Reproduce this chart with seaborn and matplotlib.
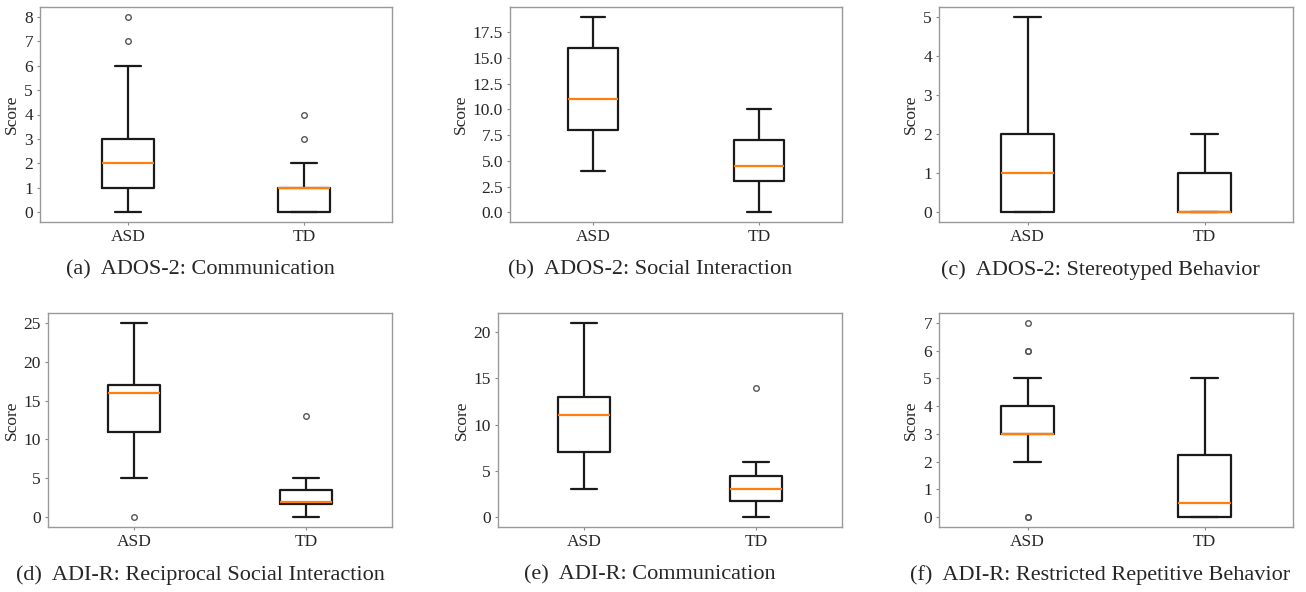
import matplotlib
matplotlib.use('Agg')
import matplotlib.pyplot as plt
from matplotlib.ticker import MultipleLocator, FormatStrFormatter
import seaborn as sns
import pandas as pd

sns.set_theme(style='white')
plt.rcParams['font.family'] = 'serif'
plt.rcParams['font.serif'] = ['Liberation Serif', 'DejaVu Serif']

groups = ['ASD', 'TD']

ados_comm_asd = [0, 0, 1, 1, 1, 1, 1, 2, 2, 2, 2, 2, 3, 3, 3, 3, 4, 5, 6, 7, 8]
ados_comm_td = [0, 0, 0, 0, 0, 0, 0, 0, 0, 1, 1, 1, 1, 1, 1, 1, 1, 2, 2, 3, 4]

ados_social_asd = [4, 5, 6, 7, 8, 8, 9, 9, 10, 10, 11, 12, 13, 14, 15, 16, 16, 17, 18, 18, 19]
ados_social_td = [0, 1, 2, 2, 3, 3, 3, 4, 4, 4, 4, 5, 5, 6, 6, 7, 7, 8, 8, 9, 9, 10]

ados_stereo_asd = [0, 0, 0, 0, 0, 0, 0, 1, 1, 1, 1, 1, 2, 2, 2, 2, 3, 3, 4, 4, 5]
ados_stereo_td = [0, 0, 0, 0, 0, 0, 0, 0, 0, 0, 0, 1, 1, 1, 1, 1, 1, 1, 2, 2, 2]

adir_social_asd = [0, 5, 8, 10, 11, 11, 12, 13, 14, 15, 16, 16, 16, 17, 17, 17, 18, 19, 20, 22, 25]
adir_social_td = [0, 0, 1, 1, 1, 2, 2, 2, 2, 2, 2, 2, 3, 3, 3, 5, 5, 5, 5, 13]

adir_comm_asd = [3, 4, 5, 6, 7, 7, 8, 9, 10, 10, 11, 11, 12, 12, 13, 13, 14, 15, 17, 19, 21]
adir_comm_td = [0, 0, 1, 1, 1, 2, 2, 2, 3, 3, 3, 3, 4, 4, 4, 6, 6, 6, 6, 14]

adir_rrb_asd = [0, 0, 2, 3, 3, 3, 3, 3, 3, 3, 3, 3, 4, 4, 4, 4, 4, 5, 6, 6, 7]
adir_rrb_td = [0, 0, 0, 0, 0, 0, 0, 0, 0, 0, 1, 1, 2, 2, 2, 3, 3, 4, 4, 5]

captions = [
    '(a)  ADOS-2: Communication',
    '(b)  ADOS-2: Social Interaction',
    '(c)  ADOS-2: Stereotyped Behavior',
    '(d)  ADI-R: Reciprocal Social Interaction',
    '(e)  ADI-R: Communication',
    '(f)  ADI-R: Restricted Repetitive Behavior',
]
panel_data = [
    (ados_comm_asd, ados_comm_td),
    (ados_social_asd, ados_social_td),
    (ados_stereo_asd, ados_stereo_td),
    (adir_social_asd, adir_social_td),
    (adir_comm_asd, adir_comm_td),
    (adir_rrb_asd, adir_rrb_td),
]
ytick_steps = [1, 2.5, 1, 5, 5, 1]
ytick_fmt = ['%d', '%.1f', '%d', '%d', '%d', '%d']

W, H = 1306, 592
fig = plt.figure(figsize=(W / 100, H / 100), dpi=100)

# axes boxes in pixels: left, top, right, bottom
boxes = [
    (40, 7, 392, 222), (510, 7, 842, 222), (939, 7, 1293, 222),
    (48, 313, 392, 527), (498, 313, 842, 527), (939, 313, 1293, 527),
]
caption_pos = [(200, 270), (650, 270), (1100, 270),
               (200, 575), (650, 575), (1100, 575)]

for i, ((l, t, r, b), (asd, td)) in enumerate(zip(boxes, panel_data)):
    ax = fig.add_axes([l / W, 1 - b / H, (r - l) / W, (b - t) / H])
    df = pd.DataFrame({
        'group': ['ASD'] * len(asd) + ['TD'] * len(td),
        'score': asd + td,
    })
    sns.boxplot(data=df, x='group', y='score', order=groups, ax=ax,
                width=0.3, fill=False, color='#1a1a1a', linewidth=1.6,
                medianprops=dict(color='#ff7f0e', linewidth=1.6),
                flierprops=dict(marker='o', markerfacecolor='none',
                                markeredgecolor='#555555', markersize=4,
                                markeredgewidth=1.0))
    ax.yaxis.set_major_locator(MultipleLocator(ytick_steps[i]))
    ax.yaxis.set_major_formatter(FormatStrFormatter(ytick_fmt[i]))
    ax.set_xlabel('')
    ax.set_ylabel('Score', fontsize=12.5, labelpad=3)
    ax.tick_params(axis='both', labelsize=12.5, length=2, width=0.8,
                   color='#888888', pad=3, left=True, bottom=True)
    for sp in ax.spines.values():
        sp.set_color('#999999')
        sp.set_linewidth(1.0)
    cx, cy = caption_pos[i]
    fig.text(cx / W, 1 - cy / H, captions[i], ha='center', va='center',
             fontsize=16)

fig.savefig('out.png', dpi=100)
